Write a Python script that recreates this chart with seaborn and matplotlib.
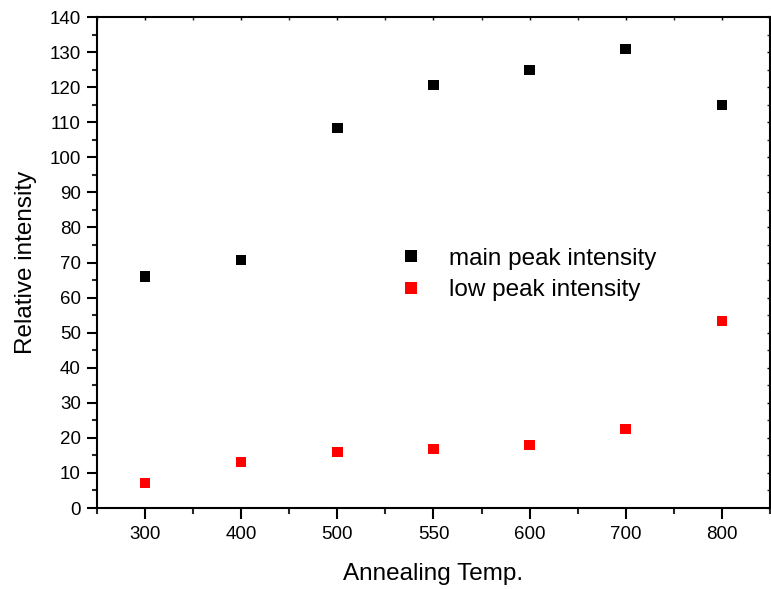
import matplotlib
matplotlib.use("Agg")
import matplotlib.pyplot as plt
import matplotlib.lines as mlines
import seaborn as sns
import pandas as pd
from matplotlib.ticker import MultipleLocator, FixedLocator

temps = ["300", "400", "500", "550", "600", "700", "800"]
main_peak = [66.0, 70.7, 108.4, 120.6, 124.9, 130.9, 114.9]
low_peak = [7.1, 13.1, 16.0, 16.8, 18.0, 22.5, 53.3]
series_names = ["main peak intensity", "low peak intensity"]

sns.set_theme(style="ticks")
plt.rcParams['font.family'] = ['Liberation Sans', 'DejaVu Sans']
plt.rcParams['text.color'] = 'black'
plt.rcParams['axes.labelcolor'] = 'black'

idx = list(range(len(temps)))
df = pd.DataFrame({
    "pos": idx + idx,
    "value": main_peak + low_peak,
    "series": [series_names[0]] * len(temps) + [series_names[1]] * len(temps),
})

fig = plt.figure(figsize=(7.71, 5.89), dpi=100)
ax = fig.add_axes([0.1258, 0.1375, 0.8729, 0.8336])

sns.scatterplot(data=df, x="pos", y="value", hue="series",
                palette={series_names[0]: "black", series_names[1]: "red"},
                marker="s", s=58, edgecolor="none", linewidth=0, ax=ax)

ax.set_xlim(-0.5, len(temps) - 0.5)
ax.set_ylim(0, 140)
ax.set_xticks(idx)
ax.set_xticklabels(temps)
ax.xaxis.set_minor_locator(FixedLocator([i - 0.5 for i in range(len(temps) + 1)]))
ax.yaxis.set_major_locator(MultipleLocator(10))
ax.yaxis.set_minor_locator(MultipleLocator(5))

for s in ax.spines.values():
    s.set_linewidth(1.5)
    s.set_color("black")

ax.tick_params(axis="x", which="major", direction="out", length=8, width=1.5,
               labelsize=13.5, colors="black", pad=5)
ax.tick_params(axis="x", which="minor", direction="out", length=4, width=1.5)
ax.tick_params(axis="y", which="major", direction="out", length=7.2, width=1.5,
               labelsize=13.5, colors="black", pad=4.5)
ax.tick_params(axis="y", which="minor", direction="out", length=3.6, width=1.5)
ax.tick_params(top=True, right=True, which="both")

fig.canvas.draw()
for t in ax.xaxis.get_major_ticks() + ax.xaxis.get_minor_ticks():
    t.tick2line.set_marker(mlines.TICKDOWN)
    t.tick2line.set_markersize(2)
    t.tick2line.set_markeredgewidth(1)
for t in ax.yaxis.get_major_ticks() + ax.yaxis.get_minor_ticks():
    t.tick2line.set_marker(mlines.TICKLEFT)
    t.tick2line.set_markersize(2)
    t.tick2line.set_markeredgewidth(1)

ax.set_xlabel("Annealing Temp.", fontsize=17.5, labelpad=14)
ax.set_ylabel("Relative intensity", fontsize=17.5, labelpad=9)

leg = ax.legend(loc="center left", bbox_to_anchor=(0.416, 0.4756), frameon=False,
                fontsize=17.5, handlelength=1.0, handletextpad=1.05,
                markerscale=1.2, labelspacing=0.37, borderpad=0.4)

fig.savefig("out.png", dpi=100)
